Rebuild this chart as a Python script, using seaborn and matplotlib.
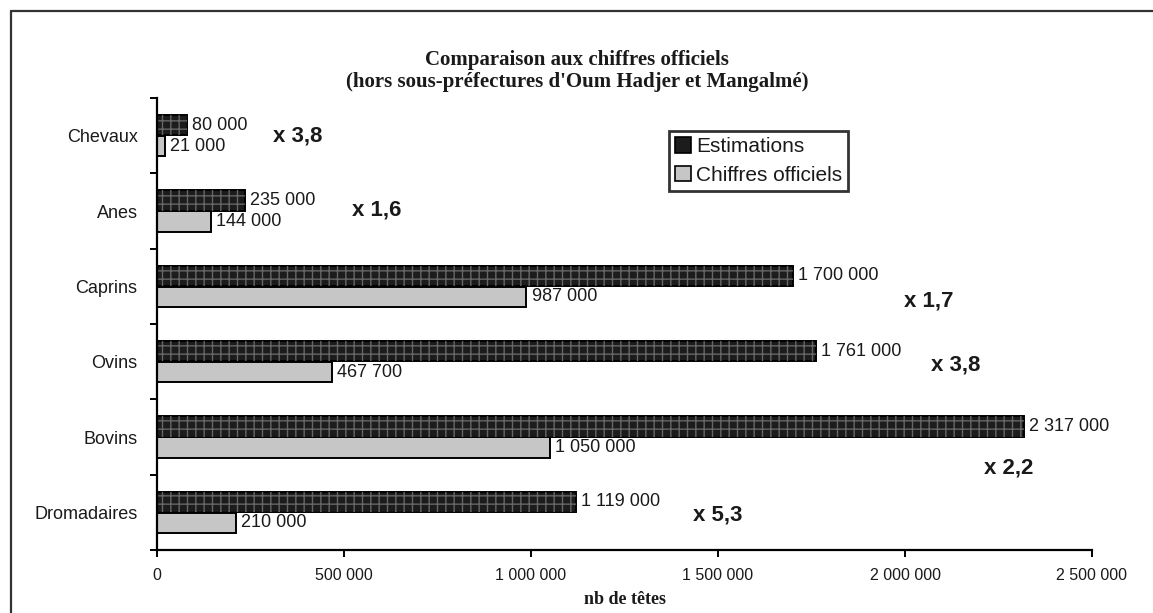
import matplotlib
matplotlib.use("Agg")
import matplotlib.pyplot as plt
from matplotlib.patches import Patch, Rectangle
from matplotlib.lines import Line2D
from matplotlib.ticker import FuncFormatter, FixedLocator
import pandas as pd
import seaborn as sns

# Effectifs par espèce
categories = ["Chevaux", "Anes", "Caprins", "Ovins", "Bovins", "Dromadaires"]
estimations = [80000, 235000, 1700000, 1761000, 2317000, 1119000]
chiffres_officiels = [21000, 144000, 987000, 467700, 1050000, 210000]
series = ["Estimations", "Chiffres officiels"]
x_ticks = [0, 500000, 1000000, 1500000, 2000000, 2500000]

# Emplacement des rapports "x n" (valeur en x, position en catégorie)
ratio_pos = [(377000, 0.0), (588000, 0.99), (2064000, 2.19),
             (2136000, 3.05), (2278000, 4.41), (1500000, 5.04)]

sns.set_theme(style="white")
plt.rcParams["font.family"] = ["Liberation Sans", "DejaVu Sans"]

df = pd.DataFrame({
    "Catégorie": categories * 2,
    "Série": [series[0]] * len(categories) + [series[1]] * len(categories),
    "Valeur": estimations + chiffres_officiels,
})

W, H = 1153, 613
fig = plt.figure(figsize=(W / 100, H / 100), dpi=100)
fig.patch.set_facecolor("white")
ax = fig.add_axes([157 / W, 1 - 550 / H, (1092 - 157) / W, (550 - 98) / H])

dark, light = "#1c1c1c", "#c6c6c6"
sns.barplot(data=df, y="Catégorie", x="Valeur", hue="Série", order=categories,
            hue_order=series, palette={series[0]: dark, series[1]: light},
            orient="h", width=0.56, gap=0.04, edgecolor="black", linewidth=1.4,
            saturation=1, legend=False, ax=ax)

# Trame quadrillée sur les barres d'estimation
for bar in ax.containers[0]:
    ax.add_patch(Rectangle(bar.get_xy(), bar.get_width(), bar.get_height(),
                           facecolor="none", edgecolor="#666666", linewidth=0,
                           hatch="++", zorder=bar.get_zorder() + 0.1))

def fr(v):
    return f"{int(round(v)):,}".replace(",", " ")

for cont, vals in zip(ax.containers, [estimations, chiffres_officiels]):
    ax.bar_label(cont, labels=[fr(v) for v in vals], padding=4,
                 fontsize=13, color="#1a1a1a")

for (xp, yp), e, o in zip(ratio_pos, estimations, chiffres_officiels):
    txt = f"x {e / o:.1f}".replace(".", ",")
    ax.text(xp, yp, txt, fontsize=16, fontweight="bold", color="#1a1a1a",
            ha="center", va="center")

ax.set_xlim(0, 2500000)
ax.set_ylim(len(categories) - 0.5, -0.5)
ax.xaxis.set_major_locator(FixedLocator(x_ticks))
ax.xaxis.set_major_formatter(FuncFormatter(lambda v, p: fr(v)))
ax.tick_params(axis="x", direction="out", length=5, width=1.4, color="black",
               labelsize=11.5, labelcolor="#1a1a1a", pad=8, bottom=True)
ax.set_yticks(range(len(categories)))
ax.set_yticks([i - 0.5 for i in range(len(categories) + 1)], minor=True)
ax.tick_params(axis="y", which="major", length=0, labelsize=13,
               labelcolor="#1a1a1a", pad=14)
ax.tick_params(axis="y", which="minor", direction="out", length=5, width=1.4,
               color="black", left=True)
ax.set_ylabel("")
ax.set_xlabel("nb de têtes", family="Liberation Serif", fontweight="bold",
              fontsize=13, color="#1a1a1a", labelpad=6)
for s in ["top", "right"]:
    ax.spines[s].set_visible(False)
for s in ["left", "bottom"]:
    ax.spines[s].set_color("black")
    ax.spines[s].set_linewidth(1.6)
ax.set_facecolor("none")

handles = [Patch(facecolor=dark, edgecolor="black", linewidth=1.2),
           Patch(facecolor=light, edgecolor="black", linewidth=1.2)]
leg = ax.legend(handles, series, loc="upper left",
                bbox_to_anchor=((669 - 157) / 935, (550 - 131) / 452),
                fontsize=15, frameon=True, fancybox=False, handlelength=0.75,
                handleheight=0.75, handletextpad=0.25, labelspacing=0.45,
                borderpad=0.3, borderaxespad=0)
leg.get_frame().set_edgecolor("black")
leg.get_frame().set_linewidth(2)
for t in leg.get_texts():
    t.set_color("#1a1a1a")

fig.text(577 / W, 1 - 60 / H, "Comparaison aux chiffres officiels",
         family="Liberation Serif", fontweight="bold", fontsize=15,
         ha="center", va="center", color="#1a1a1a")
fig.text(577 / W, 1 - 82 / H, "(hors sous-préfectures d'Oum Hadjer et Mangalmé)",
         family="Liberation Serif", fontweight="bold", fontsize=15,
         ha="center", va="center", color="#1a1a1a")

# Cadre
fig.add_artist(Line2D([11 / W, 11 / W], [0, 1 - 11 / H], color="#333333",
                      linewidth=1.6, transform=fig.transFigure))
fig.add_artist(Line2D([11 / W, 1], [1 - 11 / H, 1 - 11 / H], color="#333333",
                      linewidth=1.6, transform=fig.transFigure))

fig.savefig("out.png", dpi=100)
